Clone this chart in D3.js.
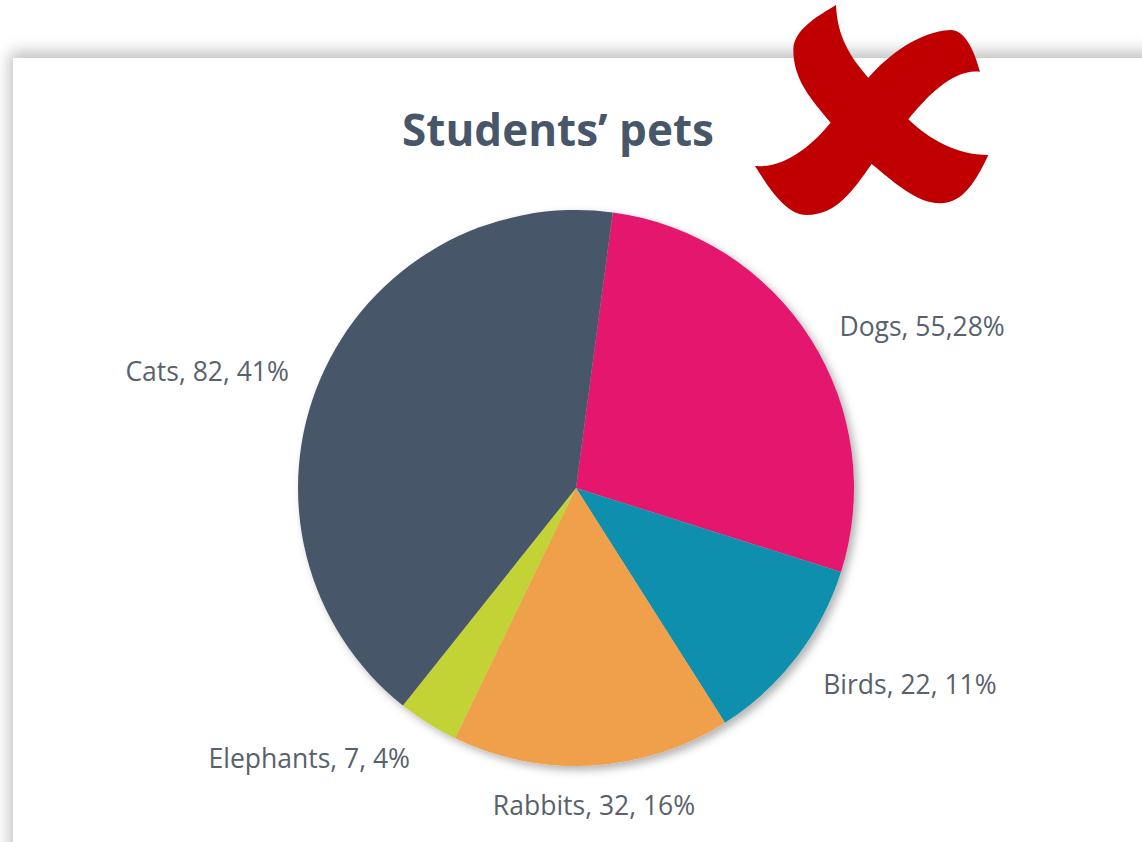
<!DOCTYPE html>
<html>
<head>
<meta charset="utf-8">
<script src="https://cdn.jsdelivr.net/npm/d3@7"></script>
<style>
  html, body { margin: 0; padding: 0; background: #fff; }
  svg { display: block; }
</style>
</head>
<body>
<svg id="chart" width="1142" height="842"></svg>
<script>
// data, in the order the slices run clockwise
const pets = ['Dogs', 'Birds', 'Rabbits', 'Elephants', 'Cats'];
const counts = [55, 22, 32, 7, 82];
const labels = ['Dogs, 55,28%', 'Birds, 22, 11%', 'Rabbits, 32, 16%', 'Elephants, 7, 4%', 'Cats, 82, 41%'];
const colours = ['#e5176e', '#118fad', '#f0a04b', '#c3d235', '#475669'];

const width = 1142, height = 842;
const cx = 576, cy = 488, radius = 278;

const svg = d3.select('#chart');
const defs = svg.append('defs');

// card shadow (top / left edge only shows)
const cardShadow = defs.append('filter').attr('id', 'cardShadow')
  .attr('x', '-10%').attr('y', '-10%').attr('width', '120%').attr('height', '120%');
cardShadow.append('feDropShadow')
  .attr('dx', -3).attr('dy', -6).attr('stdDeviation', 8)
  .attr('flood-color', '#000').attr('flood-opacity', 0.25);

const pieShadow = defs.append('filter').attr('id', 'pieShadow')
  .attr('x', '-20%').attr('y', '-20%').attr('width', '140%').attr('height', '140%');
pieShadow.append('feDropShadow')
  .attr('dx', 4).attr('dy', 4).attr('stdDeviation', 4)
  .attr('flood-color', '#000').attr('flood-opacity', 0.3);

svg.append('rect')
  .attr('x', 13).attr('y', 58)
  .attr('width', width + 40).attr('height', height + 40)
  .attr('fill', '#fff')
  .attr('filter', 'url(#cardShadow)');

svg.append('text')
  .attr('x', 558).attr('y', 146)
  .attr('text-anchor', 'middle')
  .attr('font-family', "'Open Sans', sans-serif")
  .attr('font-weight', 700)
  .attr('font-size', 44)
  .attr('fill', '#475669')
  .text('Students\u2019 pets');

const pie = d3.pie()
  .sort(null)
  .value(d => d)
  .startAngle(7.6 * Math.PI / 180)
  .endAngle(7.6 * Math.PI / 180 + 2 * Math.PI);

const arcs = pie(counts);
const arc = d3.arc().innerRadius(0).outerRadius(radius);
const labelArc = d3.arc().innerRadius(radius + 34).outerRadius(radius + 34);

const g = svg.append('g').attr('transform', `translate(${cx},${cy})`);

g.append('g')
  .attr('filter', 'url(#pieShadow)')
  .selectAll('path')
  .data(arcs)
  .join('path')
  .attr('d', arc)
  .attr('fill', (d, i) => colours[i]);

g.selectAll('text.label')
  .data(arcs)
  .join('text')
  .attr('class', 'label')
  .attr('transform', d => `translate(${labelArc.centroid(d)})`)
  .attr('dy', '0.58em')
  .attr('text-anchor', d => {
    const mid = (d.startAngle + d.endAngle) / 2 % (2 * Math.PI);
    if (Math.abs(mid - Math.PI) < 0.2) return 'middle';
    return mid < Math.PI ? 'start' : 'end';
  })
  .attr('font-family', "'Open Sans', sans-serif")
  .attr('font-size', 26.5)
  .attr('fill', '#58616d')
  .text((d, i) => labels[i]);

// red cross drawn over the top right corner
svg.append('path')
  .attr('transform', 'translate(740,0) scale(0.3333)')
  .attr('fill', '#c00000')
  .attr('d', 'M288,15 C292,110 330,170 385,233 C450,160 540,95 630,90 C670,88 700,140 720,215 ' +
    'C640,205 560,290 505,358 C570,420 650,465 745,465 C710,540 670,610 600,610 ' +
    'C530,610 460,545 395,492 C340,570 290,645 200,645 C140,645 90,570 45,498 ' +
    'C140,505 220,430 272,368 C215,300 160,240 160,150 C160,90 230,50 288,15 Z');
</script>
</body>
</html>
